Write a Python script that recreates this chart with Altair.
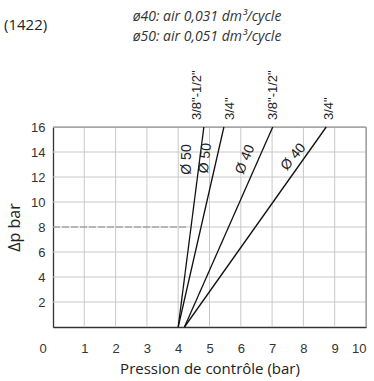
import altair as alt
import pandas as pd

# ---- data ----
series = ['Ø50 3/8"-1/2"', 'Ø50 3/4"', 'Ø40 3/8"-1/2"', 'Ø40 3/4"']
x_start = [4.0, 4.0, 4.2, 4.2]
x_end = [4.82, 5.46, 7.02, 8.73]
y_start = [0, 0, 0, 0]
y_end = [16, 16, 16, 16]

top_labels = ['3/8"-1/2"', '3/4"', '3/8"-1/2"', '3/4"']
top_label_x = [4.61, 5.66, 7.04, 8.83]

dia_labels = ["Ø 50", "Ø 50", "Ø 40", "Ø 40"]
dia_x = [4.28, 4.87, 6.14, 7.68]
dia_y = [13.4, 13.5, 13.4, 13.6]
dia_angle = [270, 276, 292, 310]

x_ticks = [1, 2, 3, 4, 5, 6, 7, 8, 9, 10]
y_ticks = [2, 4, 6, 8, 10, 12, 14, 16]
x_range = [0, 10]
y_range = [0, 16]

header_lines = ["ø40: air 0,031 dm³/cycle", "ø50: air 0,051 dm³/cycle"]
ref_label = "(1422)"

W, H = 313, 200

rows = []
for s, xs, xe, ys, ye in zip(series, x_start, x_end, y_start, y_end):
    rows.append({"s": s, "x": xs, "y": ys, "o": 0})
    rows.append({"s": s, "x": xe, "y": ye, "o": 1})
lines_df = pd.DataFrame(rows)

base_axis_font = "Liberation Sans"


def X(field="x:Q"):
    return alt.X(field, scale=alt.Scale(domain=x_range, nice=False, zero=False),
                 axis=alt.Axis(values=x_ticks, title="Pression de contrôle (bar)"))


def Y(field="y:Q"):
    return alt.Y(field, scale=alt.Scale(domain=y_range, nice=False, zero=False),
                 axis=alt.Axis(values=y_ticks, title="Δp bar"))


frame = alt.Chart(pd.DataFrame({"x": [0], "y": [0]})).mark_point(opacity=0).encode(x=X(), y=Y())

# grid drawn as rules with explicit start and end
vgrid_df = pd.DataFrame({"x": x_ticks, "y": [y_range[0]] * len(x_ticks),
                         "y2": [y_range[1]] * len(x_ticks)})
hgrid_df = pd.DataFrame({"y": y_ticks, "x": [x_range[0]] * len(y_ticks),
                         "x2": [x_range[1]] * len(y_ticks)})
vgrid = alt.Chart(vgrid_df).mark_rule(color="#c8c8c8", strokeWidth=1).encode(
    x=X(), y=Y(), y2="y2:Q")
hgrid = alt.Chart(hgrid_df).mark_rule(color="#c8c8c8", strokeWidth=1).encode(
    y=Y(), x=X(), x2="x2:Q")

# top and right border of the plot box
border_r = alt.Chart(pd.DataFrame({"x": [x_range[1]], "y": [y_range[0]], "y2": [y_range[1]]})).mark_rule(
    color="#999", strokeWidth=1).encode(x=X(), y=Y(), y2="y2:Q")
border_t = alt.Chart(pd.DataFrame({"y": [y_range[1]], "x": [x_range[0]], "x2": [x_range[1]]})).mark_rule(
    color="#999", strokeWidth=1).encode(y=Y(), x=X(), x2="x2:Q")

zero_label = alt.Chart(pd.DataFrame({"x": [0], "t": ["0"]})).mark_text(
    font=base_axis_font, fontSize=13, color="#333", dx=-10, dy=22
).encode(x=X(), y=alt.value(H), text="t:N")

rule8 = alt.Chart(pd.DataFrame({"x": [0], "x2": [4.3], "y": [8]})).mark_rule(
    color="#888", strokeDash=[7, 2], strokeWidth=1
).encode(x=X(), x2="x2:Q", y=Y())

lines = alt.Chart(lines_df).mark_line(color="#111", strokeWidth=1.3, clip=False).encode(
    x=X(), y=Y(), detail="s:N", order="o:Q")

top_df = pd.DataFrame({"x": top_label_x, "t": top_labels})
top_text = alt.Chart(top_df).mark_text(
    angle=270, align="left", baseline="middle", font=base_axis_font,
    fontSize=13, color="#222"
).encode(x=X(), y=alt.value(-7), text="t:N")

dia_layers = []
for t, x, y, a in zip(dia_labels, dia_x, dia_y, dia_angle):
    d = pd.DataFrame({"x": [x], "y": [y], "t": [t]})
    dia_layers.append(alt.Chart(d).mark_text(
        angle=a, align="center", baseline="middle", font=base_axis_font,
        fontSize=14, color="#222"
    ).encode(x=X(), y=Y(), text="t:N"))

header_layers = []
for t, yy in zip(header_lines, [-110, -90]):
    header_layers.append(alt.Chart(pd.DataFrame({"t": [t]})).mark_text(
        font="Open Sans", fontSize=14, fontStyle="italic", color="#333",
        align="center", baseline="middle"
    ).encode(x=alt.value(154), y=alt.value(yy), text="t:N"))

ref = alt.Chart(pd.DataFrame({"t": [ref_label]})).mark_text(
    font="Open Sans", fontSize=15, color="#222", align="left", baseline="middle"
).encode(x=alt.value(-49), y=alt.value(-102), text="t:N")

chart = alt.layer(frame, vgrid, hgrid, border_r, border_t, rule8, lines, zero_label, top_text,
                  *dia_layers, *header_layers, ref).properties(
    width=W, height=H,
    background="white",
    autosize=alt.AutoSizeParams(type="none"),
    padding={"left": 53, "top": 127, "right": 8, "bottom": 54},
).configure_view(
    stroke="#999", strokeWidth=1
).configure_axis(
    titleFont="Open Sans", titleFontWeight="normal", titleColor="#222",
    labelFont=base_axis_font, labelFontSize=13, labelColor="#333",
    labelOverlap=False, ticks=False, grid=False,
    domainColor="#333", domainWidth=1.3,
).configure_axisX(
    titleFontSize=15, titlePadding=6, labelPadding=15,
).configure_axisY(
    titleFontSize=16, titlePadding=8, labelPadding=8,
)

chart.save("out.html", embed_options={"renderer": "svg", "actions": False})
